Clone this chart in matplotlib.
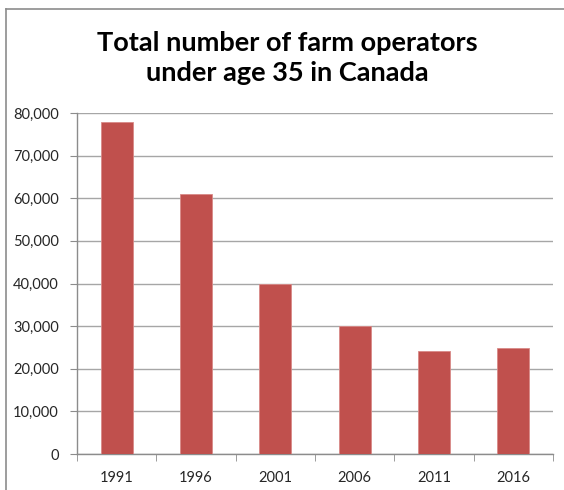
import matplotlib
matplotlib.use('Agg')
import matplotlib.pyplot as plt
from matplotlib.lines import Line2D
from matplotlib.ticker import FuncFormatter, FixedLocator
import numpy as np

years = ['1991', '1996', '2001', '2006', '2011', '2016']
operators = [77900, 61100, 40000, 30000, 24200, 24900]
title = 'Total number of farm operators\nunder age 35 in Canada'

plt.rcParams['font.family'] = ['Lato', 'DejaVu Sans']

fig = plt.figure(figsize=(5.64, 4.90), dpi=100)
ax = fig.add_axes([77/564, 36/490, 476/564, 341/490])

x = np.arange(len(years))
ax.bar(x, operators, width=0.4, color='#C0504D', edgecolor='#D98A88', linewidth=0.6, zorder=3)

ax.set_xlim(-0.5, len(years) - 0.5)
ax.set_ylim(0, 80000)
ax.set_yticks(np.arange(0, 80001, 10000))
ax.yaxis.set_major_formatter(FuncFormatter(lambda v, p: f'{int(v):,}'))
ax.set_xticks(x)
ax.set_xticklabels(years)
ax.xaxis.set_minor_locator(FixedLocator(np.arange(-0.5, len(years), 1.0)))

ax.grid(axis='y', color='#A6A6A6', linewidth=1.0, zorder=0)
for s in ['top', 'right']:
    ax.spines[s].set_visible(False)
for s in ['left', 'bottom']:
    ax.spines[s].set_color('#8C8C8C')
    ax.spines[s].set_linewidth(1.0)

ax.tick_params(axis='y', length=5, color='#8C8C8C', labelsize=10.5, labelcolor='#262626', pad=8)
ax.tick_params(axis='x', which='major', length=0, labelsize=10.5, labelcolor='#262626', pad=12)
ax.tick_params(axis='x', which='minor', length=5, color='#8C8C8C')

fig.text(0.509, 0.882, title, ha='center', va='center', fontsize=19.5, fontweight='bold',
         linespacing=1.3, color='black')

# outer chart frame (left and top edges visible)
fig.add_artist(Line2D([6/564, 6/564], [0, 1 - 9/490], color='#8C8C8C', linewidth=1.2,
                      transform=fig.transFigure))
fig.add_artist(Line2D([6/564, 1], [1 - 9/490, 1 - 9/490], color='#8C8C8C', linewidth=1.2,
                      transform=fig.transFigure))

fig.savefig('out.png', dpi=100)
